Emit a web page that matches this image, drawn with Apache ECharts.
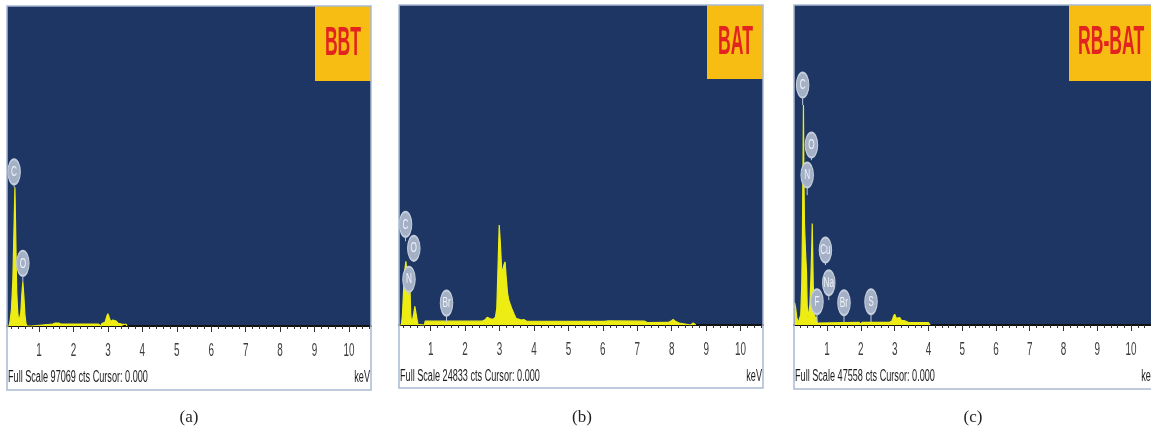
<!DOCTYPE html>
<html>
<head>
<meta charset="utf-8">
<script src="https://cdn.jsdelivr.net/npm/echarts@6/dist/echarts.min.js"></script>
<style>
  html, body { margin: 0; padding: 0; background: #ffffff; }
  #chart { width: 1151px; height: 432px; }
</style>
</head>
<body>
<div id="chart"></div>
<script>
// EDS spectra of the three samples: energy (keV) against counts.
const sampleNames = ['BBT', 'BAT', 'RB-BAT'];
const panelCaptions = ['(a)', '(b)', '(c)'];
const fullScaleCounts = [97069, 24833, 47558];
const energyRanges = [[0.07, 10.64], [0.08, 10.65], [0.02, 10.59]];
const keVTicks = [1, 2, 3, 4, 5, 6, 7, 8, 9, 10];
const cursorText = 'Cursor: 0.000';

// [energy keV, counts]
const spectrumBBT = [
  [0.07, 0], [0.13, 0], [0.16, 1500], [0.20, 5000], [0.24, 14000], [0.27, 28000],
  [0.30, 42100], [0.32, 30000], [0.35, 11000], [0.38, 4500], [0.41, 1200], [0.44, 700],
  [0.47, 4000], [0.50, 9500], [0.53, 13300], [0.56, 9000], [0.59, 3500], [0.62, 800],
  [0.65, 0], [0.78, 0], [0.80, 600], [1.40, 600], [1.47, 900], [1.52, 1400], [1.57, 900],
  [1.63, 600], [2.72, 600], [2.74, 0], [2.80, 0], [2.82, 700], [2.92, 1200], [2.97, 3000],
  [3.00, 3700], [3.04, 2500], [3.08, 1400], [3.14, 1800], [3.19, 2100], [3.24, 1500],
  [3.30, 800], [3.40, 600], [3.53, 500], [3.55, 0]
];
const spectrumBAT = [
  [0.08, 0], [0.15, 0], [0.18, 800], [0.21, 2500], [0.25, 4300], [0.28, 4950], [0.31, 4100],
  [0.34, 3800], [0.37, 3600], [0.40, 2800], [0.42, 800], [0.45, 100], [0.48, 150], [0.51, 900],
  [0.54, 1450], [0.57, 1300], [0.60, 500], [0.63, 50], [0.66, 0], [0.82, 0], [0.84, 300],
  [2.50, 300], [2.58, 400], [2.64, 600], [2.68, 650], [2.73, 480], [2.82, 450], [2.88, 600],
  [2.92, 1300], [2.95, 4000], [2.99, 7760], [3.02, 6500], [3.06, 4400], [3.09, 4150],
  [3.13, 4700], [3.16, 4900], [3.19, 3800], [3.23, 2500], [3.27, 1900], [3.31, 1800],
  [3.35, 1300], [3.39, 1250], [3.43, 800], [3.48, 500], [3.56, 450], [3.63, 380], [3.70, 420],
  [3.78, 300], [6.05, 280], [6.15, 320], [7.20, 300], [7.30, 180], [7.90, 200], [7.98, 300],
  [8.04, 420], [8.12, 260], [8.22, 150], [8.26, 0], [8.55, 0], [8.62, 150], [8.70, 0]
];
const spectrumRBBAT = [
  [0.02, 3000], [0.04, 3300], [0.07, 2500], [0.10, 1200], [0.14, 300], [0.18, 300],
  [0.22, 1500], [0.25, 6000], [0.27, 14000], [0.29, 26000], [0.30, 32700], [0.31, 24000],
  [0.33, 15000], [0.36, 11000], [0.39, 8000], [0.41, 3000], [0.43, 1000], [0.46, 1200],
  [0.49, 3000], [0.52, 7000], [0.55, 12500], [0.56, 15100], [0.57, 12000], [0.59, 6000],
  [0.62, 2000], [0.65, 800], [0.68, 1200], [0.71, 300], [0.74, 400], [1.95, 400], [1.97, 100],
  [2.02, 100], [2.05, 400], [2.85, 400], [2.92, 600], [2.97, 1300], [3.00, 1600], [3.05, 1000],
  [3.10, 900], [3.15, 1100], [3.20, 700], [3.28, 650], [3.33, 550], [3.40, 400], [4.00, 350],
  [4.05, 0]
];

// element markers: [symbol, energy keV, stem foot (counts), marker centre (counts)]
const elementsBBT = [
  ['C', 0.276, 42100, 46760],
  ['O', 0.53, 13300, 19000]
];
const elementsBAT = [
  ['C', 0.27, 6500, 7810],
  ['O', 0.51, 4890, 5950],
  ['N', 0.37, 2330, 3550],
  ['Br', 1.46, 230, 1700]
];
const elementsRBBAT = [
  ['C', 0.276, 32700, 35660],
  ['O', 0.537, 24500, 26750],
  ['N', 0.41, 19300, 22290],
  ['Cu', 0.95, 8900, 11150],
  ['Na', 1.05, 3700, 6290],
  ['F', 0.70, 450, 3460],
  ['Br', 1.50, 450, 3310],
  ['S', 2.30, 450, 3460]
];

const spectra = [spectrumBBT, spectrumBAT, spectrumRBBAT];
const elementSets = [elementsBBT, elementsBAT, elementsRBBAT];

// page layout of the three panels (pixels)
const panels = [
  { left: 7,   top: 6, width: 364, height: 320, frameBottom: 390, titleBox: [315, 6, 56, 75],  titleX: 343,  titleY: 44,   titleAlign: 'center', captionX: 189 },
  { left: 399, top: 5, width: 364, height: 320, frameBottom: 388, titleBox: [707, 5, 56, 74],  titleX: 735.5, titleY: 42.5, titleAlign: 'center', captionX: 582 },
  { left: 794, top: 5, width: 364, height: 320, frameBottom: 389, titleBox: [1069, 5, 89, 76], titleX: 1078, titleY: 43,   titleAlign: 'left',   captionX: 973 }
];

const PLOT_BLUE = '#1d3663';
const SPECTRUM_YELLOW = '#eded14';
const TITLE_GOLD = '#f8bd12';
const TITLE_RED = '#e2231f';
const FRAME_COLOR = '#a9b9d2';
const SANS = '"Liberation Sans", Arial, Helvetica, sans-serif';

function minorTickValues(range) {
  const vals = [];
  for (let k = 1; k * 0.2 <= range[1]; k++) {
    const v = Math.round(k * 0.2 * 10) / 10;
    if (Math.abs(v - Math.round(v)) > 1e-6 && v >= range[0]) vals.push(v);
  }
  return vals;
}

function tickLabelItem(params, api) {
  const p = api.coord([api.value(0), 0]);
  return {
    type: 'text', x: p[0], y: p[1] + 25, scaleX: 0.55,
    style: {
      text: String(api.value(0)), fill: '#3d3d3d', font: '18px ' + SANS,
      align: 'center', verticalAlign: 'middle', textAlign: 'center', textVerticalAlign: 'middle'
    }
  };
}

function stemItem(params, api) {
  const a = api.coord([api.value(0), api.value(1)]);
  const b = api.coord([api.value(0), api.value(2)]);
  return {
    type: 'line',
    shape: { x1: a[0], y1: a[1], x2: b[0], y2: b[1] },
    style: { stroke: '#c2cad8', lineWidth: 1 }
  };
}

function markerRenderer(list) {
  return function (params, api) {
    const c = api.coord([api.value(0), api.value(2)]);
    return {
      type: 'group',
      children: [
        {
          type: 'circle', x: c[0], y: c[1], scaleX: 0.5,
          shape: { cx: 0, cy: 0, r: 12.5 },
          style: { fill: '#a3b0c6', stroke: '#c5cedc', lineWidth: 2 }
        },
        {
          type: 'text', x: c[0], y: c[1], scaleX: 0.55,
          style: {
            text: list[params.dataIndex][0], fill: '#eef2f7', font: '15px ' + SANS,
            align: 'center', verticalAlign: 'middle', textAlign: 'center', textVerticalAlign: 'middle'
          }
        }
      ]
    };
  };
}

const grids = [], xAxes = [], yAxes = [], series = [], graphics = [];

panels.forEach((p, i) => {
  grids.push({
    left: p.left, top: p.top, width: p.width, height: p.height,
    show: true, backgroundColor: PLOT_BLUE, borderWidth: 0
  });
  const range = energyRanges[i];
  xAxes.push({
    gridIndex: i, type: 'value', position: 'bottom', min: range[0], max: range[1],
    axisLine: { show: true, onZero: false, lineStyle: { color: '#111111', width: 2 } },
    axisTick: { show: true, length: 6, customValues: keVTicks, lineStyle: { color: '#333333', width: 1 } },
    axisLabel: { show: false }, splitLine: { show: false }
  });
  xAxes.push({
    gridIndex: i, type: 'value', position: 'bottom', min: range[0], max: range[1],
    axisLine: { show: false, onZero: false },
    axisTick: { show: true, length: 3, customValues: minorTickValues(range), lineStyle: { color: '#333333', width: 1 } },
    axisLabel: { show: false }, splitLine: { show: false }
  });
  yAxes.push({ gridIndex: i, type: 'value', min: 0, max: fullScaleCounts[i], show: false });

  const xi = i * 2;
  series.push({
    type: 'line', xAxisIndex: xi, yAxisIndex: i, data: spectra[i],
    showSymbol: false, silent: true, animation: false, clip: true, z: 2,
    lineStyle: { color: SPECTRUM_YELLOW, width: 1.2 },
    areaStyle: { color: SPECTRUM_YELLOW, opacity: 1 }
  });
  series.push({
    type: 'custom', xAxisIndex: xi, yAxisIndex: i, clip: false, silent: true, animation: false, z: 3,
    data: elementSets[i].map(e => [e[1], e[2], e[3]]),
    renderItem: stemItem
  });
  series.push({
    type: 'custom', xAxisIndex: xi, yAxisIndex: i, clip: false, silent: true, animation: false, z: 4,
    data: elementSets[i].map(e => [e[1], e[2], e[3]]),
    renderItem: markerRenderer(elementSets[i])
  });
  series.push({
    type: 'custom', xAxisIndex: xi, yAxisIndex: i, clip: false, silent: true, animation: false, z: 5,
    data: keVTicks.map(v => [v, 0]),
    renderItem: tickLabelItem
  });

  // sample name box
  graphics.push({
    type: 'rect', z: 10,
    shape: { x: p.titleBox[0], y: p.titleBox[1], width: p.titleBox[2], height: p.titleBox[3] },
    style: { fill: TITLE_GOLD }
  });
  graphics.push({
    type: 'text', z: 11, x: p.titleX, y: p.titleY, scaleX: 0.44,
    style: {
      text: sampleNames[i], fill: TITLE_RED, font: 'bold 40px ' + SANS,
      align: p.titleAlign, verticalAlign: 'middle', textAlign: p.titleAlign, textVerticalAlign: 'middle'
    }
  });
  // status line under the axis
  graphics.push({
    type: 'text', z: 11, x: p.left + 1, y: p.top + p.height + 51.5, scaleX: 0.57,
    style: {
      text: 'Full Scale ' + fullScaleCounts[i] + ' cts ' + cursorText, fill: '#1c1c1c', font: '16px ' + SANS,
      align: 'left', verticalAlign: 'middle', textAlign: 'left', textVerticalAlign: 'middle'
    }
  });
  graphics.push({
    type: 'text', z: 11, x: p.left + p.width - 1, y: p.top + p.height + 51.5, scaleX: 0.57,
    style: {
      text: 'keV', fill: '#1c1c1c', font: '16px ' + SANS,
      align: 'right', verticalAlign: 'middle', textAlign: 'right', textVerticalAlign: 'middle'
    }
  });
  // panel frame
  graphics.push({
    type: 'rect', z: 12,
    shape: { x: p.left, y: p.top, width: p.width, height: p.frameBottom - p.top },
    style: { fill: null, stroke: FRAME_COLOR, lineWidth: 1.5 }
  });
  // caption
  graphics.push({
    type: 'text', z: 11, x: p.captionX, y: 418,
    style: {
      text: panelCaptions[i], fill: '#231f20', font: '17px "Liberation Serif", "Times New Roman", serif',
      align: 'center', verticalAlign: 'middle', textAlign: 'center', textVerticalAlign: 'middle'
    }
  });
});

const chart = echarts.init(document.getElementById('chart'), null, { renderer: 'canvas' });
chart.setOption({
  animation: false,
  backgroundColor: '#ffffff',
  grid: grids,
  xAxis: xAxes,
  yAxis: yAxes,
  series: series,
  graphic: { elements: graphics }
});
</script>
</body>
</html>
